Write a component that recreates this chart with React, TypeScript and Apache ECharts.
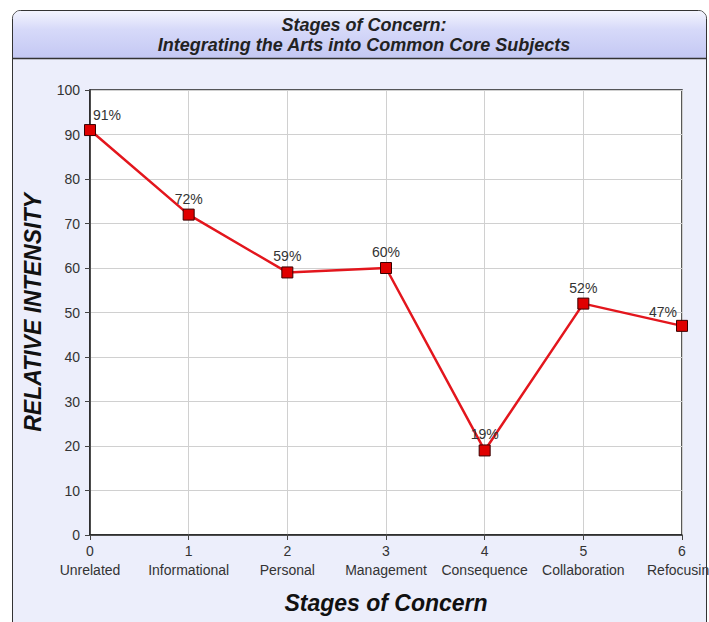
import React, { useEffect, useRef } from "react";
import * as echarts from "echarts";

const stageNums = [0, 1, 2, 3, 4, 5, 6];
const stageNames = ["Unrelated", "Informational", "Personal", "Management", "Consequence", "Collaboration", "Refocusing"];
const intensity = [91, 72, 59, 60, 19, 52, 47];
const yTicks = { min: 0, max: 100, interval: 10 };
const titleLines = ["Stages of Concern:", "Integrating the Arts into Common Core Subjects"];

const FONT = "'Liberation Sans', Arial, sans-serif";

export default function App() {
  const ref = useRef<HTMLDivElement>(null);
  useEffect(() => {
    document.body.style.margin = "0";
    const chart = echarts.init(ref.current!, null, { renderer: "svg" });
    const labelOffsets: Record<number, number[]> = { 0: [17, 1], 6: [-19, 2] };
    chart.setOption({
      animation: false,
      graphic: [
        {
          type: "rect",
          shape: { x: 12.5, y: 10.5, width: 694, height: 620, r: 8 },
          style: { fill: "#eceefb", stroke: "#333", lineWidth: 1 },
          z: -10,
        },
        {
          type: "rect",
          shape: { x: 13, y: 11, width: 693, height: 47, r: [7, 7, 0, 0] },
          style: {
            fill: new echarts.graphic.LinearGradient(0, 0, 0, 1, [
              { offset: 0, color: "#f3f4fe" },
              { offset: 0.4, color: "#d6d9f9" },
              { offset: 1, color: "#c4c8f3" },
            ]),
          },
          z: -9,
        },
        {
          type: "line",
          shape: { x1: 13, y1: 58.5, x2: 706, y2: 58.5 },
          style: { stroke: "#333", lineWidth: 1.5 },
          z: -8,
        },
        {
          type: "text",
          x: 364,
          y: 25,
          style: {
            text: titleLines[0],
            font: "italic bold 18px 'Liberation Sans Narrow', 'Liberation Sans', sans-serif",
            fill: "#222",
            align: "center",
            verticalAlign: "middle",
          },
        },
        {
          type: "text",
          x: 364,
          y: 45,
          style: {
            text: titleLines[1],
            font: "italic bold 18px 'Liberation Sans Narrow', 'Liberation Sans', sans-serif",
            fill: "#222",
            align: "center",
            verticalAlign: "middle",
          },
        },
      ],
      grid: {
        left: 90,
        right: 27,
        top: 90,
        bottom: 87,
        show: true,
        backgroundColor: "#fff",
        borderColor: "#222",
        borderWidth: 1.5,
        outerBoundsMode: "none",
        containLabel: false,
      },
      xAxis: {
        type: "value",
        min: 0,
        max: 6,
        interval: 1,
        name: "Stages of Concern",
        nameLocation: "middle",
        nameGap: 56,
        nameTextStyle: {
          fontFamily: FONT,
          fontSize: 23,
          fontWeight: "bold",
          fontStyle: "italic",
          color: "#111",
        },
        axisLine: { show: true, lineStyle: { color: "#222", width: 1.5 } },
        axisTick: { show: true, length: 5, lineStyle: { color: "#444" } },
        splitLine: { show: true, lineStyle: { color: "#d0d0d0", width: 1 } },
        axisLabel: {
          margin: 6,
          fontFamily: FONT,
          fontSize: 14,
          color: "#333",
          lineHeight: 19,
          hideOverlap: false,
          formatter: (v: number) => `${stageNums[v]}\n${stageNames[v]}`,
        },
      },
      yAxis: {
        type: "value",
        min: yTicks.min,
        max: yTicks.max,
        interval: yTicks.interval,
        name: "RELATIVE INTENSITY",
        nameLocation: "middle",
        nameGap: 46,
        nameTextStyle: {
          fontFamily: FONT,
          fontSize: 23,
          fontWeight: "bold",
          fontStyle: "italic",
          color: "#111",
        },
        axisLine: { show: true, lineStyle: { color: "#222", width: 1.5 } },
        axisTick: { show: true, length: 5, lineStyle: { color: "#444" } },
        splitLine: { show: true, lineStyle: { color: "#d0d0d0", width: 1 } },
        axisLabel: {
          margin: 10,
          fontFamily: FONT,
          fontSize: 14,
          color: "#333",
        },
      },
      series: [
        {
          type: "line",
          data: intensity.map((v, i) => ({
            value: [stageNums[i], v],
            label: labelOffsets[i] ? { offset: labelOffsets[i] } : undefined,
          })),
          symbol: "rect",
          symbolSize: 11,
          lineStyle: { color: "#e3161d", width: 2.5 },
          itemStyle: { color: "#e00000", borderColor: "#3a0000", borderWidth: 1 },
          label: {
            show: true,
            position: "top",
            distance: 3,
            formatter: (p: any) => `${p.value[1]}%`,
            fontFamily: FONT,
            fontSize: 14,
            color: "#333",
          },
          z: 5,
        },
      ],
    });
    return () => chart.dispose();
  }, []);
  return <div ref={ref} style={{ width: 709, height: 622 }} />;
}
